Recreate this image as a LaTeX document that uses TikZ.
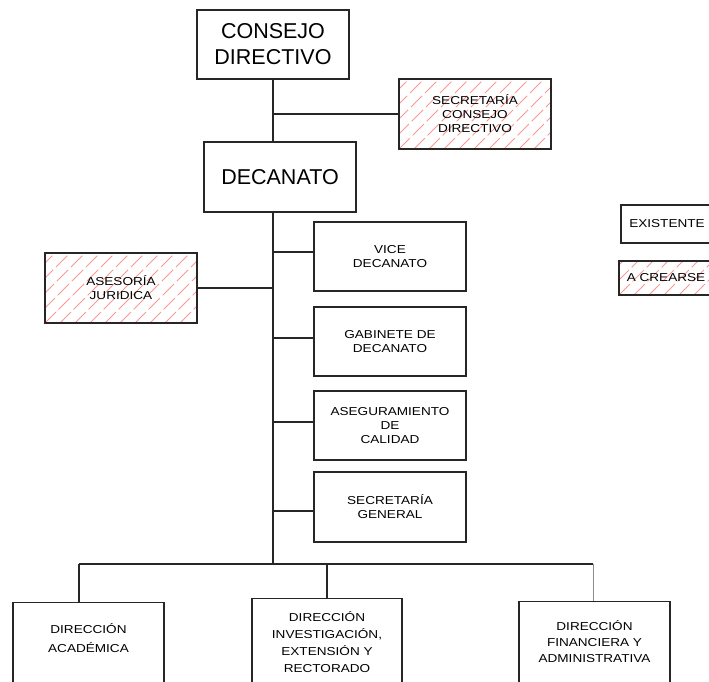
\documentclass[tikz,border=0pt]{standalone}
\usepackage{fontspec}
\setmainfont{Liberation Sans}
\newfontfamily\boxfont[FakeStretch=1.18]{Liberation Sans}
\usetikzlibrary{positioning}
\usetikzlibrary{calc}
\usetikzlibrary{backgrounds}
\tikzset{
  unit/.style={draw=black!85, line width=1.1pt, rectangle, minimum width=152pt, minimum height=69pt, inner sep=0pt, align=center, font=\boxfont\fontsize{11.5}{14}\selectfont},
  head/.style={unit, font=\fontsize{21.5}{26}\selectfont},
  boxtext/.style={align=center, inner sep=0pt, font=\boxfont\fontsize{11.5}{#1}\selectfont},
  boxtext/.default=14,
  link/.style={draw=black!85, line width=1.1pt},
  hatchline/.style={draw={rgb,255:red,250;green,150;blue,150}, line width=0.9pt, dash pattern=on 16pt off 4pt}
}
\newcommand{\hatchfill}[1]{%
  \begin{pgfonlayer}{background}
  \begin{scope}
    \clip (#1.south west) rectangle (#1.north east);
    \foreach \i in {-6,...,11}
      \draw[hatchline] ($(#1.south west)+(\i*15,0)$) -- ++(120,-120);
  \end{scope}
  \end{pgfonlayer}}

\begin{document}
\begin{tikzpicture}[x=1pt, y=-1pt]
  \useasboundingbox (0,0) rectangle (709,681);

  \node[head] (consejo) at (273,44.5) {CONSEJO\\DIRECTIVO};
  \node[unit, minimum height=70pt] (secCons) at (475,114) {SECRETAR\'IA\\CONSEJO\\DIRECTIVO};
  \node[head, minimum height=70pt] (decanato) at (280,177) {DECANATO};
  \node[unit] (vice) at (390,256.5) {VICE\\DECANATO};
  \node[unit] (gabinete) at (390,341.5) {GABINETE DE\\DECANATO};
  \node[unit] (calidad) at (390,425.5) {ASEGURAMIENTO\\DE\\CALIDAD};
  \node[unit, minimum height=70pt] (secGen) at (390,507) {SECRETAR\'IA\\GENERAL};
  \node[unit, minimum height=70pt] (asesoria) at (121,288) {ASESOR\'IA\\JURIDICA};

  \node[unit, minimum width=92pt, minimum height=38pt] (existente) at (667,224) {EXISTENTE};
  \node[unit, minimum width=94pt, minimum height=34pt] (crearse) at (666,278) {A CREARSE};

  \node[unit, minimum width=151pt, minimum height=110pt, anchor=north] (academica) at (88.5,602) {};
  \node[unit, minimum width=150pt, minimum height=110pt, anchor=north] (investigacion) at (327,598) {};
  \node[unit, minimum width=151pt, minimum height=110pt, anchor=north] (financiera) at (594.5,601) {};
  \node[boxtext=19] (academicaTxt) at (88.5,638) {DIRECCI\'ON\\ACAD\'EMICA};
  \node[boxtext=17] (investigacionTxt) at (327,642) {DIRECCI\'ON\\INVESTIGACI\'ON,\\EXTENSI\'ON Y\\RECTORADO};
  \node[boxtext=16] (financieraTxt) at (594.5,642) {DIRECCI\'ON\\FINANCIERA Y\\ADMINISTRATIVA};

  \hatchfill{secCons}
  \hatchfill{asesoria}
  \hatchfill{crearse}

  \coordinate (bus) at (273,564);
  \coordinate (busL) at (79,564);
  \coordinate (busR) at (593,564);
  \path (vice.west) ++(0,-4.5) coordinate (viceIn);
  \path (gabinete.west) ++(0,-3.5) coordinate (gabineteIn);
  \path (calidad.west) ++(0,-3.5) coordinate (calidadIn);
  \path (secGen.west) ++(0,4) coordinate (secGenIn);

  \path[link] (consejo.south) edge (consejo.south |- decanato.north);
  \path[link] (consejo.south |- secCons.west) edge (secCons.west);
  \path[link] (consejo.south |- decanato.south) edge (bus);
  \path[link] (bus |- viceIn) edge (viceIn);
  \path[link] (bus |- gabineteIn) edge (gabineteIn);
  \path[link] (bus |- calidadIn) edge (calidadIn);
  \path[link] (bus |- secGenIn) edge (secGenIn);
  \path[link] (asesoria.east) edge (asesoria.east -| bus);
  \path[link] (busL) edge (busR);
  \path[link] (busL) edge (busL |- academica.north);
  \path[link] (investigacion.north |- bus) edge (investigacion.north);
  \path[link, draw=black!45, line width=0.8pt] (busR) edge (busR |- financiera.north);
\end{tikzpicture}
\end{document}
